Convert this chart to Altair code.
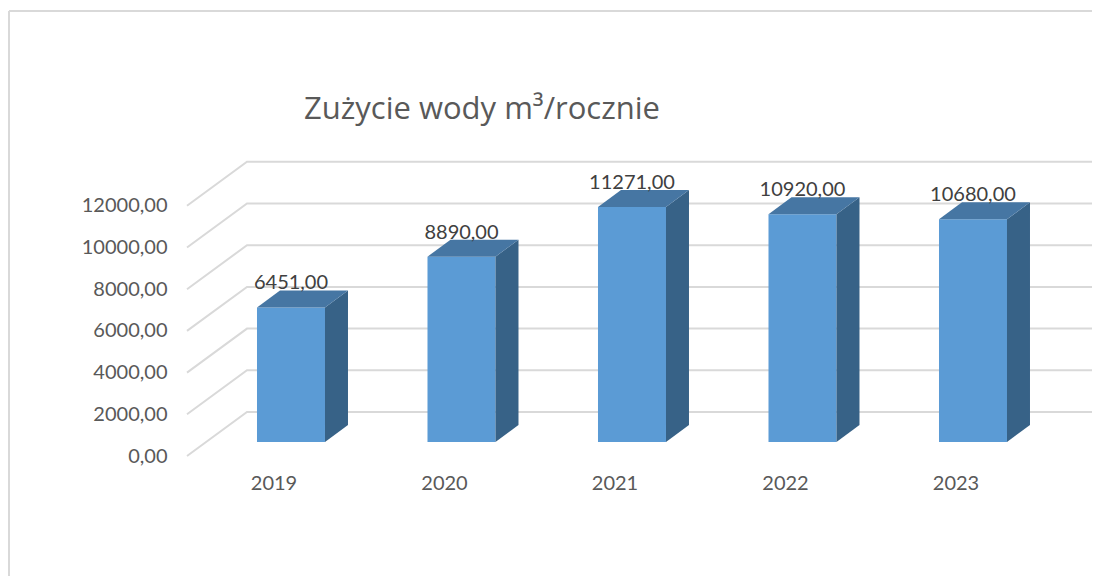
import altair as alt
import pandas as pd

years = ["2019", "2020", "2021", "2022", "2023"]
values = [6451, 8890, 11271, 10920, 10680]
ticks = [0, 2000, 4000, 6000, 8000, 10000, 12000]
title_text = ["Zużycie wody m³/rocznie"]

FONT = "Lato"
TEXT = "#595959"
X_DOMAIN = [-0.5073, 4.8006]
Y_DOMAIN = [0, 14101]
GRID_DX, GRID_DY = 0.3519, 2110
BAR_LEFT, BAR_W = -0.0968, 0.3988
BAR_DX, BAR_DY = 0.1349, 815
BASE = 672

grid_rows, side_rows, top_rows, front_rows, label_rows = [], [], [], [], []
for t in ticks:
    grid_rows += [
        {"t": t, "o": 0, "x": X_DOMAIN[0], "y": t},
        {"t": t, "o": 1, "x": X_DOMAIN[0] + GRID_DX, "y": t + GRID_DY},
        {"t": t, "o": 2, "x": X_DOMAIN[1], "y": t + GRID_DY},
    ]
for i, (yr, v) in enumerate(zip(years, values)):
    l = i + BAR_LEFT
    r = l + BAR_W
    front_rows.append({"yr": yr, "x": l, "x2": r, "y": BASE, "y2": BASE + v})
    side_rows += [
        {"yr": yr, "x": r, "y": BASE, "y2": BASE + v},
        {"yr": yr, "x": r + BAR_DX, "y": BASE + BAR_DY, "y2": BASE + v + BAR_DY},
    ]
    top = BASE + v
    top_rows += [
        {"yr": yr, "x": l, "y": top, "y2": top},
        {"yr": yr, "x": l + BAR_DX, "y": top, "y2": top + BAR_DY},
        {"yr": yr, "x": r, "y": top, "y2": top + BAR_DY},
        {"yr": yr, "x": r + BAR_DX, "y": top + BAR_DY, "y2": top + BAR_DY},
    ]
    label_rows.append({"x": (l + r) / 2, "y": top, "label": f"{v},00"})

xs = alt.Scale(domain=X_DOMAIN, nice=False, zero=False)
ys = alt.Scale(domain=Y_DOMAIN, nice=False, zero=False)

x_axis = alt.Axis(
    values=list(range(len(years))),
    labelExpr="2019 + datum.value",
    title=None, domain=False, ticks=False, grid=False,
    labelPadding=17, labelFont=FONT, labelFontSize=20, labelColor=TEXT,
)
y_axis = alt.Axis(
    values=ticks,
    labelExpr="datum.value + ',00'",
    title=None, domain=False, ticks=False, grid=False,
    labelPadding=20, labelFont=FONT, labelFontSize=20, labelColor=TEXT,
)
X = alt.X("x:Q", scale=xs, axis=x_axis, title=None)
Y = alt.Y("y:Q", scale=ys, axis=y_axis, title=None)

grid = alt.Chart(pd.DataFrame(grid_rows)).mark_line(color="#D9D9D9", strokeWidth=2).encode(
    x=X, y=Y, detail="t:N", order="o:Q"
)
front = alt.Chart(pd.DataFrame(front_rows)).mark_rect(color="#5B9BD5").encode(
    x=X, x2="x2:Q", y=Y, y2="y2:Q"
)
side = alt.Chart(pd.DataFrame(side_rows)).mark_area(color="#376287", opacity=1).encode(
    x=X, y=Y, y2="y2:Q", detail="yr:N"
)
topf = alt.Chart(pd.DataFrame(top_rows)).mark_area(color="#4676A3", opacity=1).encode(
    x=X, y=Y, y2="y2:Q", detail="yr:N"
)
labels = alt.Chart(pd.DataFrame(label_rows)).mark_text(
    font=FONT, fontSize=20, color="#404040", dy=-24, baseline="middle", align="center"
).encode(x=X, y=Y, text="label:N")

title_mark = alt.Chart(pd.DataFrame({"t": title_text})).mark_text(
    font="Open Sans", fontSize=31, color=TEXT, align="left", baseline="alphabetic"
).encode(x=alt.value(117), y=alt.value(-43), text="t:N")

frame_top = alt.Chart(pd.DataFrame({"a": [0]})).mark_rule(color="#D9D9D9", strokeWidth=2).encode(
    x=alt.value(-178), x2=alt.value(914), y=alt.value(-151)
)
frame_left = alt.Chart(pd.DataFrame({"a": [0]})).mark_rule(color="#D9D9D9", strokeWidth=2).encode(
    x=alt.value(-178), y=alt.value(-151), y2=alt.value(414)
)

chart = alt.layer(frame_top, frame_left, grid, front, side, topf, labels, title_mark).properties(
    width=905,
    height=294,
    padding={"left": 179, "top": 154, "right": 0, "bottom": 120},
    autosize=alt.AutoSizeParams(type="none"),
    background="white",
).configure_view(stroke=None)

chart.save("out.html", embed_options={"renderer": "svg", "actions": False})
